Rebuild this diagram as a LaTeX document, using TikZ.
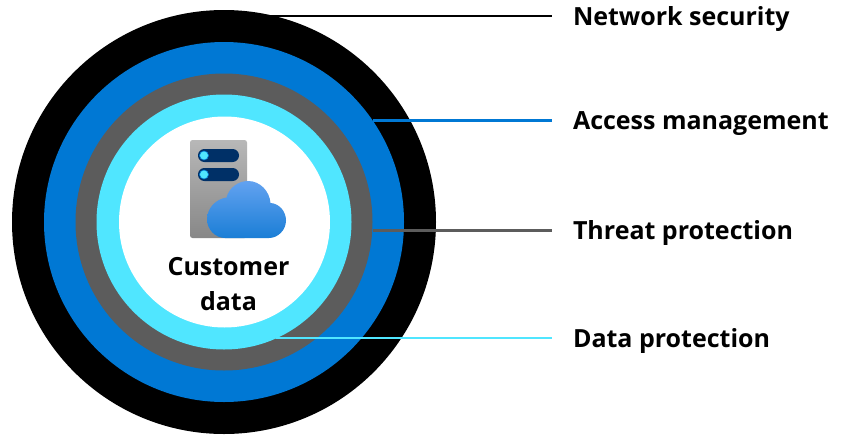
\documentclass[tikz,border=0pt]{standalone}
\usepackage{fontspec}
\setmainfont{Open Sans}
\definecolor{cnet}{HTML}{000000}
\definecolor{cacc}{HTML}{0078D4}
\definecolor{cthr}{HTML}{5C5C5C}
\definecolor{cdat}{HTML}{50E6FF}
\definecolor{cslot}{HTML}{003067}
\definecolor{cloudtop}{RGB}{98,162,240}
\definecolor{cloudbot}{RGB}{27,126,214}
\tikzset{
  x=1pt,y=-1pt,
  ring/.style={circle,inner sep=0pt,outer sep=0pt,minimum size=#1},
  layerlabel/.style={anchor=west,inner xsep=21pt,inner ysep=0pt,outer sep=0pt,font=\bfseries\fontsize{25}{30}\selectfont,text=black},
  leader/.style={line width=2.6pt},
  centertext/.style={font=\bfseries\fontsize{25}{30}\selectfont,text=black,inner sep=0pt,align=center},
  slot/.style={fill=cslot,rounded corners=6.4pt},
  led/.style={circle,fill=cdat,draw=cacc,line width=0.6pt,inner sep=0pt,minimum size=9pt}
}
\begin{document}
\begin{tikzpicture}
\useasboundingbox (0,0) rectangle (843,434);
\fill[white] (0,0) rectangle (843,434);
\node[ring=424pt,fill=cnet] (net) at (224,222) {};
\node[ring=360pt,fill=cacc] (acc) at (224,222) {};
\node[ring=297pt,fill=cthr] (thr) at (224,222) {};
\node[ring=255pt,fill=cdat] (dat) at (224,222) {};
\node[ring=211pt,fill=white] (core) at (224.5,222) {};
% server icon
\shade[top color=black!28,bottom color=black!47,rounded corners=2.5pt] (190,140) rectangle (247,238);
\fill[slot] (198,149) rectangle (239,162);
\fill[slot] (198,168) rectangle (239,181);
\node[led] (ledone) at (204,155.5) {};
\node[led] (ledtwo) at (204,174.5) {};
\shade[top color=cloudtop,bottom color=cloudbot]
  (225,238) .. controls (215,238) and (207,229) .. (207,219.5)
  .. controls (207,208) and (216,199) .. (226.5,197.5)
  .. controls (229,188) and (238,181) .. (248,181)
  .. controls (260,181) and (269.5,191) .. (270.5,203)
  .. controls (279,203.5) and (286,211) .. (286,220.5)
  .. controls (286,230) and (278,238) .. (269,238) -- cycle;
\node[centertext] (custa) at (228.5,267) {Customer};
\node[centertext] (custb) at (228.5,301) {data};
% labels
\node[layerlabel] (lnet) at (552,19) {Network security};
\node[layerlabel] (lacc) at (552,124) {Access management};
\node[layerlabel] (lthr) at (552,233) {Threat protection};
\node[layerlabel] (ldat) at (552,341) {Data protection};
% leaders
\coordinate (snet) at (270,16);
\coordinate (sacc) at (373,120.5);
\coordinate (sthr) at (373,230.3);
\coordinate (sdat) at (276,338);
\draw[leader,draw=cnet] (snet) -- (lnet.west |- snet);
\draw[leader,draw=cacc] (sacc) -- (lacc.west |- sacc);
\draw[leader,draw=cthr] (sthr) -- (lthr.west |- sthr);
\draw[leader,draw=cdat] (sdat) -- (ldat.west |- sdat);
\end{tikzpicture}
\end{document}
